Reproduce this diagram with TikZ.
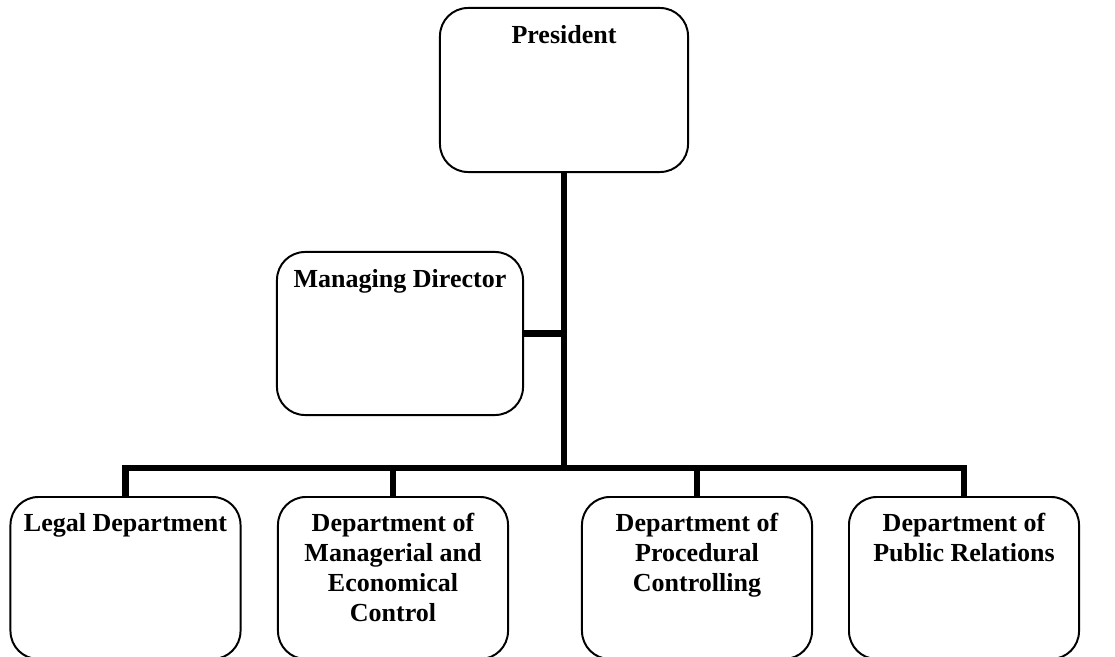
\documentclass[tikz,border=0pt]{standalone}
\usepackage{fontspec}
\setmainfont{Liberation Serif}
\usepackage{tikz}

\tikzset{
  unit/.style={draw, line width=1.4pt, rounded corners=0.7cm, fill=white},
  lower/.style={unit, minimum width=5.75cm, minimum height=4.05cm},
  title/.style={anchor=north, inner sep=0pt, align=center, font=\bfseries\fontsize{18.5}{21.3}\selectfont},
  link/.style={line width=4.3pt},
}

\begin{document}
\begin{tikzpicture}[x=0.025cm,y=-0.025cm]
      \useasboundingbox (0,0) rectangle (1115,656);

      \node[unit,minimum width=6.2cm,minimum height=4.1cm] (pres) at (564,90) {};
      \node[unit,minimum width=6.15cm,minimum height=4.075cm] (md) at (400,333.5) {};
      \node[lower] (legal) at (125.5,578) {};
      \node[lower] (econ) at (393,578) {};
      \node[lower] (proc) at (697,578) {};
      \node[lower] (pubrel) at (964,578) {};

      \node[title] (presT) at ([yshift=-0.45cm]pres.north) {President};
      \node[title] (mdT) at ([yshift=-0.45cm]md.north) {Managing Director};
      \node[title] (legalT) at ([yshift=-0.425cm]legal.north) {Legal Department};
      \node[title] (econT) at ([yshift=-0.425cm]econ.north) {Department of\\Managerial and\\Economical\\Control};
      \node[title] (procT) at ([yshift=-0.425cm]proc.north) {Department of\\Procedural\\Controlling};
      \node[title] (pubrelT) at ([yshift=-0.425cm]pubrel.north) {Department of\\Public Relations};

      \coordinate (bus) at (564,468);
      \draw[link] (pres.south) -- (bus);
      \draw[link] (md.east) -- (md.east -| bus);
      \draw[link] (bus) -| (legal.north);
      \draw[link] (bus) -| (econ.north);
      \draw[link] (bus) -| (proc.north);
      \draw[link] (bus) -| (pubrel.north);
   \end{tikzpicture}
\end{document}
